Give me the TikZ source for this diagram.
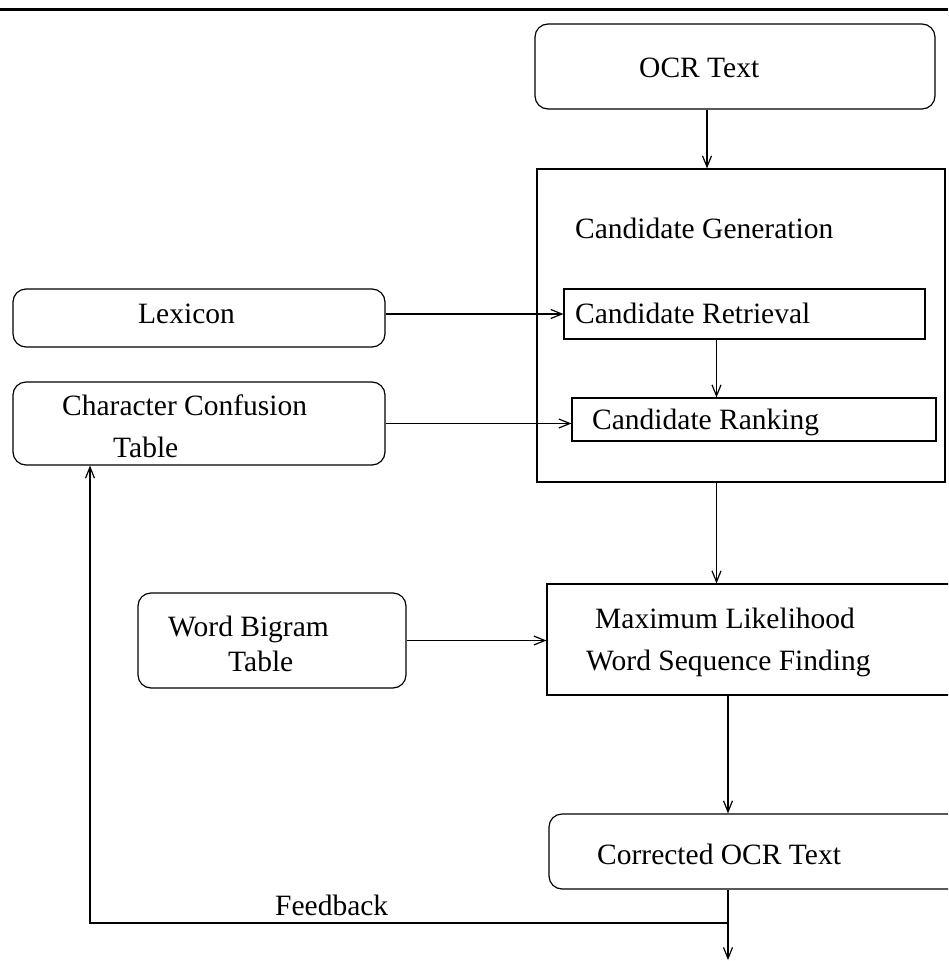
\documentclass[tikz,border=0pt]{standalone}
\usepackage{fontspec}
\setmainfont{Liberation Serif}
\usetikzlibrary{arrows.meta}
\begin{document}
\begin{tikzpicture}[x=1pt,y=-1pt,
  box/.style={draw, line width=1.2pt, inner sep=0pt, rectangle},
  rbox/.style={box, rounded corners=13pt},
  lbl/.style={anchor=base west, inner sep=0pt, font=\fontsize{29.5}{35}\selectfont},
  conn/.style={line width=1.2pt, -{Straight Barb[length=11pt,width=9pt,line width=1.2pt]}}]
\useasboundingbox (0,0) rectangle (948,961);
\fill[white] (0,0) rectangle (948,961);
\clip (0,0) rectangle (948,961);
% top rule
\coordinate (tl) at (0,9.5);
\coordinate (tr) at (948,9.5);
\draw[line width=2.5pt] (tl) -- (tr);
% boxes
\node[rbox, minimum width=400pt, minimum height=85pt] (ocr) at (735,66.5) {};
\node[box, minimum width=408pt, minimum height=313pt] (cg) at (741,325.5) {};
\node[rbox, minimum width=372pt, minimum height=58pt] (lex) at (199,318) {};
\node[rbox, minimum width=372pt, minimum height=83pt] (cct) at (199,423.5) {};
\node[box, minimum width=361pt, minimum height=50pt] (ret) at (744.5,314) {};
\node[box, minimum width=364pt, minimum height=43pt] (rank) at (754,419.5) {};
\node[rbox, minimum width=268pt, minimum height=95pt] (wb) at (272,640.5) {};
\node[box, minimum width=443pt, minimum height=111pt] (ml) at (768.5,639.5) {};
\node[rbox, minimum width=441pt, minimum height=75pt] (cor) at (769.5,851.5) {};
% labels
\node[lbl] (tocr) at (639,77) {OCR Text};
\node[lbl] (tcg) at (575,238) {Candidate Generation};
\node[lbl] (tlex) at (138,323) {Lexicon};
\node[lbl] (tret) at (575,323) {Candidate Retrieval};
\node[lbl] (tcct1) at (62,415) {Character Confusion};
\node[lbl] (tcct2) at (113,457) {Table};
\node[lbl] (trank) at (592,429) {Candidate Ranking};
\node[lbl] (twb1) at (168,636) {Word Bigram};
\node[lbl] (twb2) at (228,671) {Table};
\node[lbl] (tml1) at (595,628) {Maximum Likelihood};
\node[lbl] (tml2) at (586,670) {Word Sequence Finding};
\node[lbl] (tcor) at (597,864) {Corrected OCR Text};
\node[lbl] (tfb) at (275,915) {Feedback};
% helper coordinates
\coordinate (xa) at (707,0);
\coordinate (xb) at (716.5,0);
\coordinate (xc) at (728,0);
\coordinate (xd) at (90,0);
\coordinate (fb) at (728,923);
\coordinate (out) at (728,960);
% connectors
\draw[conn] (ocr.south -| xa) -- (cg.north -| xa);
\draw[conn] (lex.east |- ret.west) -- (ret.west);
\draw[conn] (cct.east) -- (cct.east -| rank.west);
\draw[conn] (ret.south -| xb) -- (rank.north -| xb);
\draw[conn] (cg.south -| xb) -- (ml.north -| xb);
\draw[conn] (wb.east) -- (wb.east -| ml.west);
\draw[conn] (ml.south -| xc) -- (cor.north -| xc);
\draw[conn] (cor.south -| xc) -- (out);
\draw[conn] (fb) -- (fb -| xd) -- (cct.south -| xd);
\end{tikzpicture}
\end{document}
